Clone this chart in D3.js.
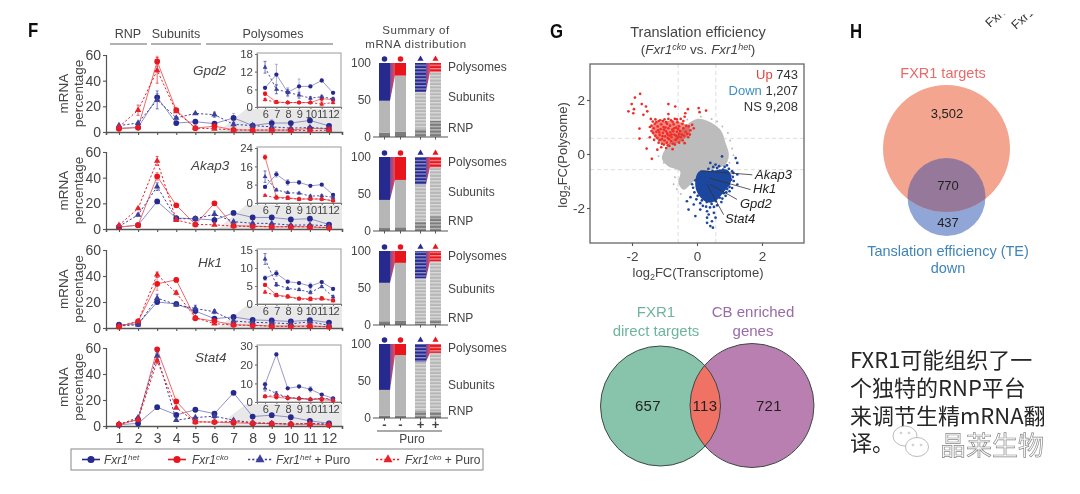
<!DOCTYPE html>
<html><head><meta charset="utf-8">
<script src="https://cdnjs.cloudflare.com/ajax/libs/d3/7.8.5/d3.min.js"></script>
<style>html,body{margin:0;padding:0;background:#fff;overflow:hidden}svg{display:block}text{font-family:"Liberation Sans",Arial,sans-serif}</style>
</head><body><svg id="c" width="1080" height="494"></svg>
<script>
// ---------- data ----------
const fractions=[1,2,3,4,5,6,7,8,9,10,11,12];
const genes=["Gpd2","Akap3","Hk1","Stat4"];
const gpd2Het=[3,3.5,27,7,8,6.5,11,5,7,7,9,4.8];
const gpd2Cko=[2.5,3.5,55,17,3,4.5,1.7,1.5,1.5,1.5,2.8,2.5];
const gpd2HetP=[5,7,25,11,14.5,13.5,6,5,4,3,3.5,2.7];
const gpd2CkoP=[4,17,48,16,3,2.5,1.5,1.5,1.5,1.5,1,1.5];
const akap3Het=[1.5,3,21.5,8.5,8,7,12.5,9,9,7.5,8,3.5];
const akap3Cko=[1.5,3,41,18.5,3.5,20,2.5,2.3,1.7,1.8,1.7,1];
const akap3HetP=[2,11,33,8,8,11.5,5.7,4.5,4.3,3,3.2,2.5];
const akap3CkoP=[3,16,53,7,3.5,3.3,2.2,2,1.7,1.8,1.7,1];
const hk1Het=[2.5,3,20,18.5,13,7.2,8.5,6.2,5.8,5,6.1,4.2];
const hk1Cko=[1,5,34,37,7.5,5.3,2.5,2.1,1.5,1.5,1.6,1];
const hk1HetP=[1.5,2.5,23,18,15,12.5,5.4,4.3,4,3.2,4.8,2];
const hk1CkoP=[1.5,5,41,27,8,3.3,2.3,2,1.4,1.2,1.4,.9];
const stat4Het=[1,2,14.5,8.5,12.5,9.5,25.5,7.3,8.3,6.8,4,2];
const stat4Cko=[1,5,59,19,3.2,3,2.5,2,1.8,1.4,1.2,.8];
const stat4HetP=[1,6.5,54,4.5,6.5,7.5,4.5,2.5,2,1.5,2,1.5];
const stat4CkoP=[1.5,5,50,14,3.2,3,3.5,2.4,1.9,1.5,2,1];
const gpd2HetE=[.5,.5,3,1.5,.5,.5,3.5,1.5,2.5,.4,.4,.3];
const gpd2CkoE=[.5,.5,4,.8,.5,.6,.3,.3,.3,.3,.8,.8];
const gpd2HetPE=[.5,.5,7,1,.8,2,1.5,1,1,.5,.5,.5];
const gpd2CkoPE=[.8,4,10,.8,.5,.4,.3,.3,.3,.3,.6,.4];
const akap3HetE=[.3,.3,1,.5,.5,.5,1.2,1.2,.8,.5,.4,.5];
const akap3CkoE=[.3,.3,3,.5,.5,1,1,.8,.5,.5,.5,.3];
const akap3HetPE=[.3,.8,3,.5,.5,2.5,.5,.4,.4,.4,.4,.5];
const akap3CkoPE=[.5,.6,3.5,.5,.3,.4,.3,.3,.3,.3,.3,.3];
const hk1HetE=[.4,.4,1.5,.5,1,.6,.8,.3,.3,.8,.3,.3];
const hk1CkoE=[.2,.4,5,1.5,.5,.4,.4,.4,.3,.4,.3,.2];
const hk1HetPE=[.3,.4,3,.5,2.5,1.5,.5,.3,.3,.4,.3,.3];
const hk1CkoPE=[.2,.4,2,1.5,.5,.3,.3,.3,.2,.3,.3,.2];
const stat4HetE=[.2,.4,.8,.6,.6,1,.8,.4,.4,1.4,.5,.4];
const stat4CkoE=[.2,.5,.8,.8,.3,.3,.4,.4,.3,.3,.3,.2];
const stat4HetPE=[.2,.8,3,.5,.5,1.6,1,.5,.3,.3,.4,.3];
const stat4CkoPE=[.3,.5,2,.6,.3,.3,.5,.4,.3,.3,.5,.2];
const panelSeries=[[gpd2Het,gpd2Cko,gpd2HetP,gpd2CkoP],[akap3Het,akap3Cko,akap3HetP,akap3CkoP],[hk1Het,hk1Cko,hk1HetP,hk1CkoP],[stat4Het,stat4Cko,stat4HetP,stat4CkoP]];
const panelErrors=[[gpd2HetE,gpd2CkoE,gpd2HetPE,gpd2CkoPE],[akap3HetE,akap3CkoE,akap3HetPE,akap3CkoPE],[hk1HetE,hk1CkoE,hk1HetPE,hk1CkoPE],[stat4HetE,stat4CkoE,stat4HetPE,stat4CkoPE]];
const insetTicks=[[0,6,12,18],[0,8,16,24],[0,5,10,15],[0,10,20,30]];
const stackRnp=[[6,7,11,22],[4,5,13,20],[5,6,4,7],[3,3,10,9]];
const stackSub=[[43,76,50,66],[38,64,50,66],[52,78,59,79],[35,82,66,79]];
const stackPoly=[[51,17,39,12],[58,31,37,14],[43,16,37,14],[62,15,24,12]];
const upPts=[[-1.75,2.23],[-1.91,2.09],[-2.01,1.85],[-2.11,1.58],[-1.94,1.66],[-1.96,1.51],[-1.7,1.85],[-1.57,1.76],[-1.53,1.58],[-1.65,1.45],[-.88,1.85],[-.67,1.76],[-.88,1.48],[-.36,1.51],[-.28,1.66],[.05,1.7],[.08,1.55],[.28,1.61],[-1.77,.94],[-1.77,.57],[-1.55,.2],[-1.39,-.18],[-1.22,.16],[-1.42,1.3],[-1.36,1.2],[-1.4,1.05],[-1.33,.95],[-1.3,1.12],[-1.25,.82],[-1.21,1.02],[-1.18,1.22],[-1.15,.7],[-1.12,.92],[-1.1,1.1],[-1.08,.55],[-1.05,.78],[-1.03,1],[-1,1.28],[-.98,.65],[-.96,.85],[-.93,.42],[-.92,1.12],[-.9,.72],[-.88,.95],[-.86,.55],[-.83,1.05],[-.82,.8],[-.8,1.25],[-.78,.62],[-.76,.9],[-.74,.38],[-.72,1.1],[-.7,.72],[-.68,1.3],[-.66,.52],[-.64,.98],[-.62,.82],[-.6,1.18],[-.57,.65],[-.55,1.02],[-.52,.85],[-.5,1.3],[-.47,.72],[-.45,1.12],[-.42,.95],[-.38,1.38],[-.35,.82],[-.33,1.05],[-.3,.75],[-1.28,.68],[-1.32,.52],[-1.18,.42],[-1.1,.25],[-1.02,.35],[-.95,.22],[-.85,.3],[-.75,.18],[-1.35,.78],[-1.2,.88],[-1.06,.66],[-.97,.98],[-.84,.68],[-.73,.84],[-.61,.58],[-.9,.6],[-1,.5],[-.8,.48],[-1.13,1.25],[-.95,1.18],[-.7,.95],[-.58,.92],[-.5,.62],[-.44,.5],[-1.25,1.18],[-1.45,.62],[-.25,1.02],[-.2,.88],[-.15,1.08],[-.1,.95],[-.27,.62],[-.22,.72],[-.4,.68],[-.38,.4],[-1.4,.85],[-1.45,1],[-1.28,1.28],[-1.05,1.22],[-.88,1.3],[-.75,1.2],[-.62,1.28],[-.42,1.22],[-1.15,.52],[-1.22,.6],[-1.08,.38],[-.9,.32],[-.68,.35],[-.55,.42],[-.92,.78],[-1.02,.9],[-.78,.72],[-.65,.68],[-1.16,.8],[-.55,.75]];
const downPts=[[.77,-.09],[1.19,-.15],[1.24,-.33],[.41,-.33],[.57,-.39],[1.08,-.64],[1.24,-.76],[1.13,-1],[1.24,-1.13],[1.08,-1.26],[-.31,-1.75],[-.26,-2.06],[-.05,-2.3],[-.1,-1.87],[.1,-2.06],[.31,-2.12],[.36,-2.24],[.52,-2.18],[.57,-2.36],[.31,-2.55],[.41,-2.67],[.49,-2.73],[.31,-2.36],[.46,-2.49],[.35,-.55],[.62,-.52],[.85,-.48],[.98,-.55],[1.02,-.8],[1.05,-.95],[.98,-1.12],[.93,-1.3],[.82,-1.45],[.7,-1.62],[.58,-1.75],[.45,-1.85],[.3,-1.78],[.15,-1.72],[.02,-1.55],[-.08,-1.42],[-.12,-1.25],[.0,-1.1],[.05,-.92],[.12,-.78],[.22,-.68],[.48,-.62],[.7,-.62],[.18,-1.92],[.62,-1.9],[.75,-1.78],[-.2,-1.6],[.28,-1.95],[.92,-.68],[.8,-.58],[.05,-1.32],[.9,-1.42],[1.12,-.7],[1,-1.38],[.4,-1.98],[.52,-1.96],[.1,-1.82],[-.02,-1.68],[.68,-.45],[.5,-.48],[.92,-.42],[1.1,-.85],[1.0,-1.22],[.88,-1.55],[.78,-1.65],[-.05,-.98],[-.15,-1.12]];
const greyPts=[[-.6,1.05],[-.3,1.28],[.12,1.38],[.45,1.3],[.62,1.2],[.78,1.02],[.95,.78],[1.02,.5],[1.08,.2],[1.12,-.05],[-.72,-.3],[-1.18,-.08],[-1.02,-.32],[-.68,-.86],[-.62,-1.3],[-.5,-1.48],[-.72,-1.12],[1,-.32]];
const greyOutlineX=[-1.08,-.88,-.31,0,.31,.72,.88,.98,.88,.31,-.1,-.41,-.57,-.52,-.88];
const greyOutlineY=[-.17,.35,1.08,1.3,1.23,.9,.41,-.02,-.39,-.64,-1.01,-1.32,-1.07,-.64,-.46];
const blueCoreX=[.05,.45,.95,1.05,.8,.55,.35,.1,-.05];
const blueCoreY=[-.66,-.62,-.6,-1,-1.45,-1.75,-1.8,-1.6,-1.2];
const redCoreX=[-1.38,-.9,-.4,-.2,-.45,-.8,-1.1,-1.35];
const redCoreY=[1.05,1.22,1.12,.85,.5,.35,.42,.7];
const genePtX=[.1,.41,.41,.31];
const genePtY=[-.62,-.9,-1.13,-1.13];
const geneEndX=[1.7,1.65,1.23,.82];
const geneEndY=[-.77,-1.32,-1.68,-2.25];
const geneLabels=["Akap3","Hk1","Gpd2","Stat4"];
const vennGLabels=["657","113","721"];
const vennHLabels=["3,502","770","437"];
const chinese=["FXR1可能组织了一","个独特的RNP平台","来调节生精mRNA翻","译。"];

// ---------- setup ----------
const svg=d3.select("#c");
const defs=svg.append("defs");
const soft=defs.append("filter").attr("id","soft").attr("x","-2%").attr("y","-2%").attr("width","104%").attr("height","104%");
soft.append("feGaussianBlur").attr("stdDeviation",.42);
const stripe=defs.append("pattern").attr("id","stripe").attr("patternUnits","userSpaceOnUse").attr("width",6).attr("height",3.4);
stripe.append("rect").attr("width",6).attr("height",1.3).attr("fill","#fff").attr("fill-opacity",.5);
const root=svg.append("g").attr("filter","url(#soft)");
const ink="#454545", blue="#27298f", red="#e8141f";
const style=[{c:blue,l:"#8e8fc4",dash:null,sym:d3.symbolCircle,s:26},{c:red,l:"#f0696a",dash:null,sym:d3.symbolCircle,s:26},{c:"#3a3f9c",l:"#3a3f9c",dash:"2.2,2",sym:d3.symbolTriangle,s:18},{c:"#e8202a",l:"#e8202a",dash:"2.2,2",sym:d3.symbolTriangle,s:18}];
function styleAxis(a,size,col){a.selectAll("path,line").attr("stroke",col||"#555").attr("stroke-width",1.1);a.selectAll("text").attr("fill",ink).attr("font-size",size);}
function txt(p,x,y,s,o={}){const t=p.append("text").attr("x",x).attr("y",y).text(s).attr("fill",o.fill||ink).attr("font-size",o.size||13).attr("text-anchor",o.anchor||"start");if(o.italic)t.attr("font-style","italic");if(o.ls)t.attr("letter-spacing",o.ls);if(o.weight)t.attr("font-weight",o.weight);return t;}

function drawSeries(g,x,y,vals,errs,k,f,lw,sizeK){
  const st=style[k],pts=f.map((d,i)=>({f:d,v:vals[i],e:errs[i]}));
  g.append("path").datum(pts).attr("fill","none").attr("stroke",st.l).attr("stroke-width",lw).attr("stroke-dasharray",st.dash)
   .attr("d",d3.line().x(d=>x(d.f)).y(d=>y(d.v)));
  g.selectAll(null).data(pts).join("path").attr("fill","none").attr("stroke",st.l).attr("stroke-width",.7)
   .attr("d",d=>{const cx=x(d.f);return `M${cx},${y(d.v-d.e)}V${y(d.v+d.e)}M${cx-1.5},${y(d.v+d.e)}H${cx+1.5}M${cx-1.5},${y(d.v-d.e)}H${cx+1.5}`;});
  g.selectAll(null).data(pts).join("path").attr("fill",st.c)
   .attr("transform",d=>`translate(${x(d.f)},${y(d.v)})`).attr("d",d3.symbol(st.sym,st.s*sizeK));
}

// ---------- panel F lines ----------
const yTops=[55,152,250,348],yZeros=[132,229,328,426];
const insetTop=[54,148,250,346],insetBot=[107,203,304,402];
const geneX=[193,191,198,195],geneY=[75,170,267,362];
const x=d3.scaleLinear([.32,12.68],[106,342]);
const xi=d3.scaleLinear([5.29,12.7],[257,341]);
genes.forEach((gene,p)=>{
  const g=root.append("g");
  const y=d3.scaleLinear([0,60],[yZeros[p],yTops[p]]);
  g.append("path").attr("fill","#e8e8e8").attr("d",d3.line()([[x(6)+3,yZeros[p]],[246,insetBot[p]+2],[342,insetBot[p]+2],[342,yZeros[p]]]));
  const ya=g.append("g").attr("transform","translate(106,0)").call(d3.axisLeft(y).tickValues([0,20,40,60]).tickSize(3).tickPadding(2));
  styleAxis(ya,14);
  const xa=g.append("g").attr("transform",`translate(0,${yZeros[p]})`).call(d3.axisBottom(x).tickValues(fractions).tickSizeOuter(0).tickSize(3).tickPadding(4).tickFormat(p===3?d3.format("d"):""));
  styleAxis(xa,14);xa.select("path").attr("stroke-width",1.6);ya.select("path").attr("stroke-width",1.2);
  panelSeries[p].forEach((v,k)=>drawSeries(g,x,y,v,panelErrors[p][k],k,fractions,1,1));
  const cy=(yTops[p]+yZeros[p])/2;
  txt(g,0,0,"mRNA",{size:13.5,anchor:"middle"}).attr("transform",`translate(68,${cy}) rotate(-90)`);
  txt(g,0,0,"percentage",{size:13.5,anchor:"middle"}).attr("transform",`translate(83,${cy}) rotate(-90)`);
  txt(g,geneX[p],geneY[p],gene,{size:13.5,italic:true});
  const yi=d3.scaleLinear([0,d3.max(insetTicks[p])],[insetBot[p],insetTop[p]]);
  g.append("rect").attr("x",257).attr("y",insetTop[p]-1).attr("width",84).attr("height",insetBot[p]-insetTop[p]+1).attr("fill","#fff").attr("stroke","#999").attr("stroke-width",1);
  const ia=g.append("g").attr("transform","translate(257,0)").call(d3.axisLeft(yi).tickValues(insetTicks[p]).tickSize(2).tickPadding(2));
  styleAxis(ia,11.5,"#777");
  const ib=g.append("g").attr("transform",`translate(0,${insetBot[p]})`).call(d3.axisBottom(xi).tickValues(fractions.slice(5)).tickSizeOuter(0).tickSize(2).tickPadding(1).tickFormat(d3.format("d")));
  styleAxis(ib,11,"#777");ib.selectAll("text").attr("letter-spacing",-.7);
  panelSeries[p].forEach((v,k)=>drawSeries(g,xi,yi,v.slice(5),panelErrors[p][k].slice(5),k,fractions.slice(5),.9,.55));
});
[["RNP",128,110,147],["Subunits",176,151,201],["Polysomes",273,206,333]].forEach(([s,c,a,b])=>{
  txt(root,c,38,s,{size:12.5,anchor:"middle"});
  root.append("line").attr("x1",a).attr("x2",b).attr("y1",44).attr("y2",44).attr("stroke","#666").attr("stroke-width",1.1);
});
txt(root,28,37,"F",{size:21,weight:"bold",fill:"#111"}).attr("transform","translate(5.6,0) scale(.8,1)");
txt(root,550,38,"G",{size:21,weight:"bold",fill:"#111"}).attr("transform","translate(110,0) scale(.8,1)");
txt(root,850,38,"H",{size:21,weight:"bold",fill:"#111"}).attr("transform","translate(170,0) scale(.8,1)");

// ---------- stacked bars ----------
const stackTop=[63,157,251,344],stackZero=[137,231,325,418];
const barC=[384.5,400.5,420.5,435.5],barW=11;
const polyCol=[blue,red,blue,red];
const labelBase=[[71,101,132],[166,196,225],[260,293,322],[352,389,415]];
genes.forEach((_,p)=>{
  const g=root.append("g");
  const y=d3.scaleLinear([0,100],[stackZero[p],stackTop[p]]);
  [0,2].forEach(b=>{
    const top=y(stackRnp[p][b]+stackSub[p][b]),top2=y(stackRnp[p][b+1]+stackSub[p][b+1]);
    const gid="cn"+p+b;
    const lg=defs.append("linearGradient").attr("id",gid);
    lg.append("stop").attr("offset",0).attr("stop-color","#7a4aa0");
    lg.append("stop").attr("offset",1).attr("stop-color","#ee4a50");
    g.append("path").attr("fill",`url(#${gid})`).attr("d",d3.line()([[barC[b]+barW/2,y(100)],[barC[b+1]-barW/2,y(100)],[barC[b+1]-barW/2,top2],[barC[b]+barW/2,top]]));
  });
  barC.forEach((c,b)=>{
    const r=stackRnp[p][b],s=stackSub[p][b],pp=stackPoly[p][b];
    const parts=[[0,r,"#7c7c7c"],[r,r+s,"#b6b6b6"],[r+s,r+s+pp,polyCol[b]]];
    parts.forEach(([a,e,col])=>g.append("rect").attr("x",c-barW/2).attr("width",barW).attr("y",y(e)).attr("height",y(a)-y(e)).attr("fill",col));
    if(b>1)g.append("rect").attr("x",c-barW/2).attr("width",barW).attr("y",y(100)).attr("height",y(0)-y(100)).attr("fill","url(#stripe)");
    g.append("path").attr("fill",polyCol[b]).attr("transform",`translate(${c},${y(100)-4})`).attr("d",d3.symbol(b<2?d3.symbolCircle:d3.symbolTriangle,b<2?24:16));
    g.append("line").attr("x1",c).attr("x2",c).attr("y1",y(0)).attr("y2",y(0)+2.5).attr("stroke","#555");
  });
  const a=g.append("g").attr("transform","translate(372,0)").call(d3.axisLeft(y).tickValues([0,50,100]).tickSize(0).tickPadding(1));
  styleAxis(a,12);a.select("path").remove();
  g.append("line").attr("x1",373).attr("x2",448).attr("y1",y(0)).attr("y2",y(0)).attr("stroke","#555").attr("stroke-width",1.2);
  ["Polysomes","Subunits","RNP"].forEach((s,j)=>txt(g,448,labelBase[p][j],s,{size:12}));
});
txt(root,416,34,"Summary of",{size:11.5,anchor:"middle",ls:.55});
txt(root,416,48,"mRNA distribution",{size:11.5,anchor:"middle",ls:.55});
["-","-","+","+"].forEach((s,b)=>txt(root,barC[b],429,s,{size:13,anchor:"middle",weight:"bold"}));
root.append("line").attr("x1",377).attr("x2",442).attr("y1",431).attr("y2",431).attr("stroke","#555").attr("stroke-width",1.1);
txt(root,412,443,"Puro",{size:12,anchor:"middle"});

// ---------- legend ----------
const lg=root.append("g");
lg.append("rect").attr("x",71).attr("y",449).attr("width",412).attr("height",21).attr("fill","#fff").attr("stroke","#888").attr("stroke-width",1);
[[82,100,104,"het",""],[168,186,192,"cko",""],[248,272,276,"het"," + Puro"],[376,400,405,"cko"," + Puro"]].forEach(([a,b,tx,sup,rest],k)=>{
  const st=style[k];
  lg.append("line").attr("x1",a).attr("x2",b).attr("y1",459.5).attr("y2",459.5).attr("stroke",st.c).attr("stroke-width",1.6).attr("stroke-dasharray",st.dash);
  lg.append("path").attr("fill",st.c).attr("transform",`translate(${(a+b)/2},459.5)`).attr("d",d3.symbol(st.sym,k<2?40:36));
  const t=txt(lg,tx,464,"",{size:12});
  t.append("tspan").text("Fxr1").attr("font-style","italic");
  t.append("tspan").text(sup).attr("font-style","italic").attr("font-size",8).attr("dy",-4);
  if(rest)t.append("tspan").text(rest).attr("dy",4);
});

// ---------- scatter ----------
const gs=root.append("g");
const sx=d3.scaleLinear([-2,2],[632,762]),sy=d3.scaleLinear([-2,2],[208,100]);
const x0=sx.invert(590),x1=sx.invert(804),y0=sy.invert(243),y1=sy.invert(64);
[-.58,.58].forEach(v=>{
  gs.append("line").attr("x1",sx(v)).attr("x2",sx(v)).attr("y1",64).attr("y2",243).attr("stroke","#dcdcdc").attr("stroke-dasharray","4,3");
  gs.append("line").attr("y1",sy(v)).attr("y2",sy(v)).attr("x1",590).attr("x2",804).attr("stroke","#dcdcdc").attr("stroke-dasharray","4,3");
});
const closed=d3.line().x(d=>sx(d[0])).y(d=>sy(d[1])).curve(d3.curveCatmullRomClosed.alpha(.5));
gs.append("path").datum(d3.zip(greyOutlineX,greyOutlineY)).attr("fill","#bcbcbc").attr("d",closed);
const dots=(arr,col,r)=>gs.selectAll(null).data(arr).join("circle").attr("cx",d=>sx(d[0])).attr("cy",d=>sy(d[1])).attr("r",r).attr("fill",col);
dots(greyPts,"#bcbcbc",1);
gs.append("path").datum(d3.zip(redCoreX,redCoreY)).attr("fill","#ec3a30").attr("fill-opacity",.6).attr("d",closed);
gs.append("path").datum(d3.zip(blueCoreX,blueCoreY)).attr("fill","#1d469e").attr("d",closed);
dots(upPts,"#ec2f28",1.35);
dots(downPts,"#1d469e",1.35);
gs.selectAll(null).data(geneLabels).join("path").attr("fill","none").attr("stroke","#333").attr("stroke-width",.8)
  .attr("d",(d,i)=>d3.line()([[sx(genePtX[i]),sy(genePtY[i])],[sx(geneEndX[i]),sy(geneEndY[i])]]));
const gl=[[755,179],[753,193],[740,208],[725,223]];
geneLabels.forEach((s,i)=>txt(gs,gl[i][0],gl[i][1],s,{size:13,italic:true,fill:"#222"}));
gs.append("rect").attr("x",590).attr("y",64).attr("width",214).attr("height",179).attr("fill","none").attr("stroke","#666").attr("stroke-width",1.3);
const xsc=d3.scaleLinear([x0,x1],[590,804]),ysc=d3.scaleLinear([y0,y1],[243,64]);
const sa=gs.append("g").attr("transform","translate(0,243)").call(d3.axisBottom(xsc).tickValues([-2,0,2]).tickSize(3).tickPadding(5).tickSizeOuter(0).tickFormat(d3.format("d")));
styleAxis(sa,13.5);sa.select("path").remove();sa.selectAll("text").text(d=>d<0?"-2":d);
const sb=gs.append("g").attr("transform","translate(590,0)").call(d3.axisLeft(ysc).tickValues([-2,0,2]).tickSize(3).tickPadding(2).tickSizeOuter(0));
styleAxis(sb,13.5);sb.select("path").remove();sb.selectAll("text").text(d=>d<0?"-2":d);
txt(gs,698,37,"Translation efficiency",{size:14.5,anchor:"middle"});
const t2=txt(gs,698,54,"(",{size:13.5,anchor:"middle"});
const sup=(t,a,b)=>{t.append("tspan").text(a).attr("font-style","italic");t.append("tspan").text(b).attr("font-style","italic").attr("font-size",9).attr("dy",-4);};
sup(t2,"Fxr1","cko");t2.append("tspan").text(" vs. ").attr("dy",4);sup(t2,"Fxr1","het");t2.append("tspan").text(")").attr("dy",4);
const axisLab=(t,a)=>{t.append("tspan").text("log");t.append("tspan").text("2").attr("font-size",9).attr("dy",3);t.append("tspan").text(a).attr("dy",-3);};
axisLab(txt(gs,698,277,"",{size:13,anchor:"middle"}),"FC(Transcriptome)");
axisLab(txt(gs,0,0,"",{size:13,anchor:"middle"}).attr("transform","translate(567,155) rotate(-90)"),"FC(Polysome)");
[["Up"," 743","#e8403a",79],["Down"," 1,207","#3f8fc8",95],["","NS 9,208","#333",111]].forEach(([a,b,c,yy])=>{
  const t=txt(gs,798,yy,"",{size:13,anchor:"end"});
  if(a)t.append("tspan").text(a).attr("fill",c);
  t.append("tspan").text(b).attr("fill","#333");
});

// ---------- Venn G ----------
const vg=root.append("g");
vg.append("clipPath").attr("id","vgL").append("circle").attr("cx",660.5).attr("cy",406).attr("r",60);
vg.append("circle").attr("cx",660.5).attr("cy",406).attr("r",60).attr("fill","#87c4ab");
vg.append("circle").attr("cx",752).attr("cy",405.5).attr("r",62).attr("fill","#b87fb0");
vg.append("circle").attr("cx",752).attr("cy",405.5).attr("r",62).attr("fill","#ef7265").attr("clip-path","url(#vgL)");
vg.append("circle").attr("cx",660.5).attr("cy",406).attr("r",60).attr("fill","none").attr("stroke","#3d4a44").attr("stroke-width",1);
vg.append("circle").attr("cx",752).attr("cy",405.5).attr("r",62).attr("fill","none").attr("stroke","#3d4a44").attr("stroke-width",1);
vennGLabels.forEach((s,i)=>txt(vg,[648,705,769][i],411,s,{size:15,anchor:"middle",fill:"#222",ls:.4}));
txt(vg,656,317,"FXR1",{size:15,anchor:"middle",fill:"#6fb49c"});
txt(vg,656,336,"direct targets",{size:15,anchor:"middle",fill:"#6fb49c"});
txt(vg,753,317,"CB enriched",{size:15,anchor:"middle",fill:"#9a6aa8"});
txt(vg,753,336,"genes",{size:15,anchor:"middle",fill:"#9a6aa8"});

// ---------- Venn H ----------
const vh=root.append("g");
vh.append("clipPath").attr("id","vhB").append("circle").attr("cx",946.5).attr("cy",148.5).attr("r",63.5);
vh.append("circle").attr("cx",946.5).attr("cy",197).attr("r",39).attr("fill","#8fa6d6");
vh.append("circle").attr("cx",946.5).attr("cy",148.5).attr("r",63.5).attr("fill","#f3a58f");
vh.append("circle").attr("cx",946.5).attr("cy",197).attr("r",39).attr("fill","#96799a").attr("clip-path","url(#vhB)");
vennHLabels.forEach((s,i)=>txt(vh,[947,948,948][i],[118,190,227][i],s,{size:13,anchor:"middle",fill:"#222"}));
txt(vh,943,78,"FXR1 targets",{size:14.5,anchor:"middle",fill:"#e96a6a"});
txt(vh,948,256,"Tanslation efficiency (TE)",{size:14.5,anchor:"middle",fill:"#3f84b8"});
txt(vh,948,273,"down",{size:14.5,anchor:"middle",fill:"#3f84b8"});
// clipped rotated labels at the top edge of the crop
defs.append("clipPath").attr("id","fxClip").append("rect").attr("x",980).attr("y",14.5).attr("width",60).attr("height",20);
const fx=root.append("g").attr("clip-path","url(#fxClip)");
[[990,28],[1016,30]].forEach(([a,b])=>{
  txt(fx,0,0,"Fxr1",{size:12.5,fill:"#333"}).attr("transform",`translate(${a},${b}) rotate(-42)`);
});

// ---------- Chinese note and watermark (crisp) ----------
const cn=svg.append("g");
chinese.forEach((s,i)=>cn.append("text").attr("x",850).attr("y",[368,396,424,451][i]).text(s).attr("font-size",22).attr("fill","#262626").style("font-family",'"Noto Sans CJK SC"'));
const bub=(cx,cy,rx,ry)=>cn.append("ellipse").attr("cx",cx).attr("cy",cy).attr("rx",rx).attr("ry",ry).attr("fill","#fff").attr("stroke","#aaa").attr("stroke-width",.8);
bub(905,436,12,10);bub(917,447,11.5,9.5);
[[901,433],[909,433],[913,445],[921,445]].forEach(([a,b])=>cn.append("circle").attr("cx",a).attr("cy",b).attr("r",.9).attr("fill","none").attr("stroke","#aaa").attr("stroke-width",.6));
cn.append("text").attr("x",940).attr("y",455).text("晶莱生物").attr("font-size",26).attr("fill","#fff").attr("stroke","#888").attr("stroke-width",.7).style("font-family",'"Noto Sans CJK SC"');
</script></body></html>
